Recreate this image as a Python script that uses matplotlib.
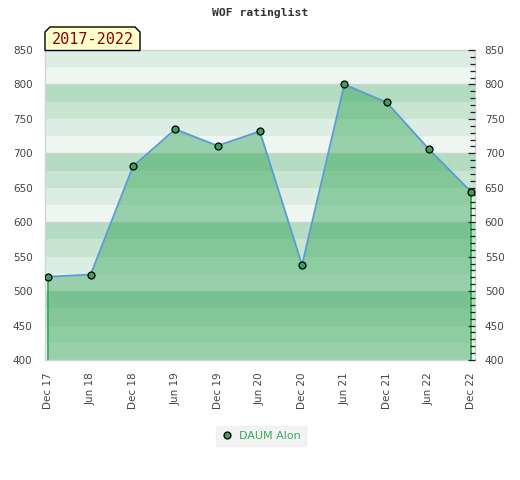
import matplotlib
matplotlib.use("Agg")
import matplotlib.pyplot as plt
from matplotlib.patches import Polygon
from matplotlib.lines import Line2D
from matplotlib.ticker import MultipleLocator

# data
dates = ["Dec 17", "Jun 18", "Dec 18", "Jun 19", "Dec 19", "Jun 20",
         "Dec 20", "Jun 21", "Dec 21", "Jun 22", "Dec 22"]
ratings = [521, 524, 681, 735, 711, 732, 538, 800, 774, 706, 644]
player = "DAUM Alon"
period = "2017-2022"
title = "WOF ratinglist"

W, H = 520, 480
fig = plt.figure(figsize=(W / 100, H / 100), dpi=100)
ax = fig.add_axes([45 / W, 1 - 360 / H, 430 / W, 310 / H])

ymin, ymax = 400, 850
band_cols = {0: "#eef6f1", 25: "#dcede3", 50: "#c8e5d2", 75: "#b3dcc2"}
for lo in range(ymin, ymax, 25):
    ax.axhspan(lo, lo + 25, color=band_cols[lo % 100], lw=0, zorder=0)
for g in range(500, ymax, 100):
    ax.axhline(g, color="#d2d2d2", lw=1, zorder=0.5)

x = list(range(len(dates)))
ax.fill_between(x, ratings, ymin, color=(50 / 255, 165 / 255, 87 / 255),
                alpha=0.46, lw=0, zorder=1)
ax.vlines([x[0], x[-1]], ymin, [ratings[0], ratings[-1]],
          color="#2ea44f", lw=1.2, zorder=2)
ax.plot(x, ratings, color="#5b9bd5", lw=1.3, zorder=3)
ax.plot(x, ratings, ls="none", marker="o", ms=5, mfc="#3a9e5c",
        mec="black", mew=0.9, zorder=4)

ax.set_xlim(-0.08, len(dates) - 1 + 0.09)
ax.set_ylim(ymin, ymax)
ax.set_xticks(x)
ax.set_xticklabels(dates, rotation=90, fontsize=7.5, color="#444444")
ax.set_yticks(range(ymin, ymax + 1, 50))
ax.tick_params(axis="x", length=0, pad=9)
ax.tick_params(axis="y", length=0, pad=9, labelsize=7.5, labelcolor="#444444")
for s in ax.spines.values():
    s.set_color("#d2d2d2")
    s.set_linewidth(1)

ax2 = ax.twinx()
ax2.set_ylim(ymin, ymax)
ax2.set_yticks(range(ymin, ymax + 1, 50))
ax2.yaxis.set_minor_locator(MultipleLocator(10))
ax2.tick_params(axis="y", which="major", direction="in", length=5,
                width=0.9, color="#222222", pad=7, labelsize=7.5,
                labelcolor="#444444")
ax2.tick_params(axis="y", which="minor", direction="in", length=3.5,
                width=0.9, color="#222222")
for s in ax2.spines.values():
    s.set_visible(False)

fig.text(0.5, 1 - 13 / H, title, ha="center", va="center",
         fontsize=8.2, fontweight="bold", family="DejaVu Sans Mono",
         color="#333333")

# period tag with clipped top corners
pts = [(45, 50.5), (45, 32), (50, 27), (135, 27), (140, 32), (140, 50.5)]
tag = Polygon([(px / W, 1 - py / H) for px, py in pts], closed=True,
              transform=fig.transFigure, facecolor="#ffffcc",
              edgecolor="black", lw=1, zorder=10)
fig.add_artist(tag)
fig.text(92.5 / W, 1 - 40 / H, period, ha="center", va="center",
         fontsize=11, family="DejaVu Sans Mono", color="#8b0000", zorder=11)

handle = Line2D([], [], ls="none", marker="o", ms=5, mfc="#3a9e5c",
                mec="black", mew=0.9)
leg = fig.legend([handle], [player], loc="center", bbox_to_anchor=(261 / W, 1 - 436 / H),
                 fontsize=8, frameon=True, fancybox=False, handlelength=1,
                 handletextpad=0.6, borderpad=0.45, labelcolor="#3daa5c")
leg.get_frame().set_facecolor("#efefef")
leg.get_frame().set_edgecolor("#efefef")

fig.savefig("out.png", dpi=100)
